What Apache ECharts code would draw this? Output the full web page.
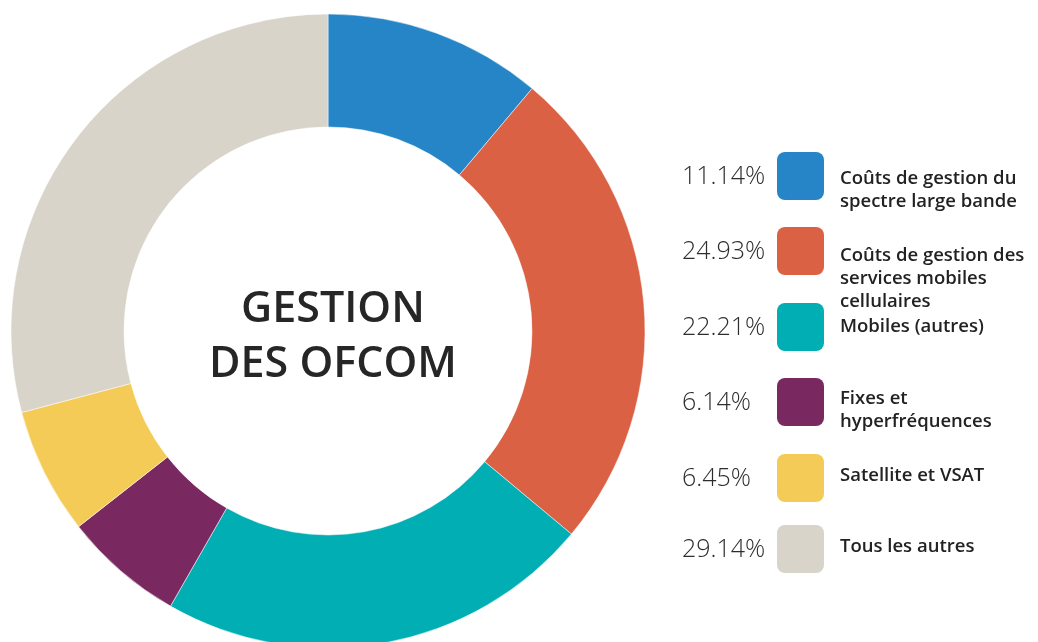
<!DOCTYPE html>
<html>
<head>
<meta charset="utf-8">
<script src="https://cdn.jsdelivr.net/npm/echarts@6/dist/echarts.min.js"></script>
<style>
  html, body { margin: 0; padding: 0; background: #fff; }
  #chart { width: 1038px; height: 642px; }
</style>
</head>
<body>
<div id="chart"></div>
<script>
// data
const categories = [
  'Coûts de gestion du\nspectre large bande',
  'Coûts de gestion des\nservices mobiles\ncellulaires',
  'Mobiles (autres)',
  'Fixes et\nhyperfréquences',
  'Satellite et VSAT',
  'Tous les autres'
]
const values = [11.14, 24.93, 22.21, 6.14, 6.45, 29.14]
const colors = ['#2585c7', '#db6145', '#00aeb3', '#7a2960', '#f5cb57', '#d8d4ca']
const centerTitle = 'GESTION\nDES OFCOM'

// legend layout (pixels)
const swatchTops = [152, 227, 303, 378, 454, 525]
const labelFirstLine = [179, 256, 327, 399, 476, 547]

const chart = echarts.init(document.getElementById('chart'))

const graphics = [{
  type: 'text',
  style: {
    text: centerTitle,
    x: 333,
    y: 337,
    align: 'center',
    verticalAlign: 'middle',
    font: '600 43px "Open Sans", sans-serif',
    lineHeight: 55,
    fill: '#262626'
  }
}]

categories.forEach(function(name, i) {
  const top = swatchTops[i]
  graphics.push({
    type: 'rect',
    shape: { x: 777, y: top, width: 47, height: 48, r: 8 },
    style: { fill: colors[i] }
  })
  graphics.push({
    type: 'text',
    style: {
      text: values[i].toFixed(2) + '%',
      x: 682,
      y: top + 25,
      verticalAlign: 'middle',
      font: '300 25px "Open Sans", sans-serif',
      fill: '#2d2d2d'
    }
  })
  graphics.push({
    type: 'text',
    style: {
      text: name,
      x: 840,
      y: labelFirstLine[i] - 11.5,
      verticalAlign: 'top',
      lineHeight: 23,
      font: '600 18.5px "Open Sans", sans-serif',
      fill: '#222'
    }
  })
})

chart.setOption({
  animation: false,
  color: colors,
  graphic: graphics,
  series: [{
    name: 'Gestion des OFCOM',
    type: 'pie',
    center: [328, 331],
    radius: [204, 317],
    startAngle: 90,
    clockwise: true,
    avoidLabelOverlap: false,
    label: { show: false },
    labelLine: { show: false },
    itemStyle: { borderColor: '#fff', borderWidth: 0.5 },
    data: categories.map(function(name, i) {
      return { name: name, value: values[i] }
    })
  }]
})
</script>
</body>
</html>
